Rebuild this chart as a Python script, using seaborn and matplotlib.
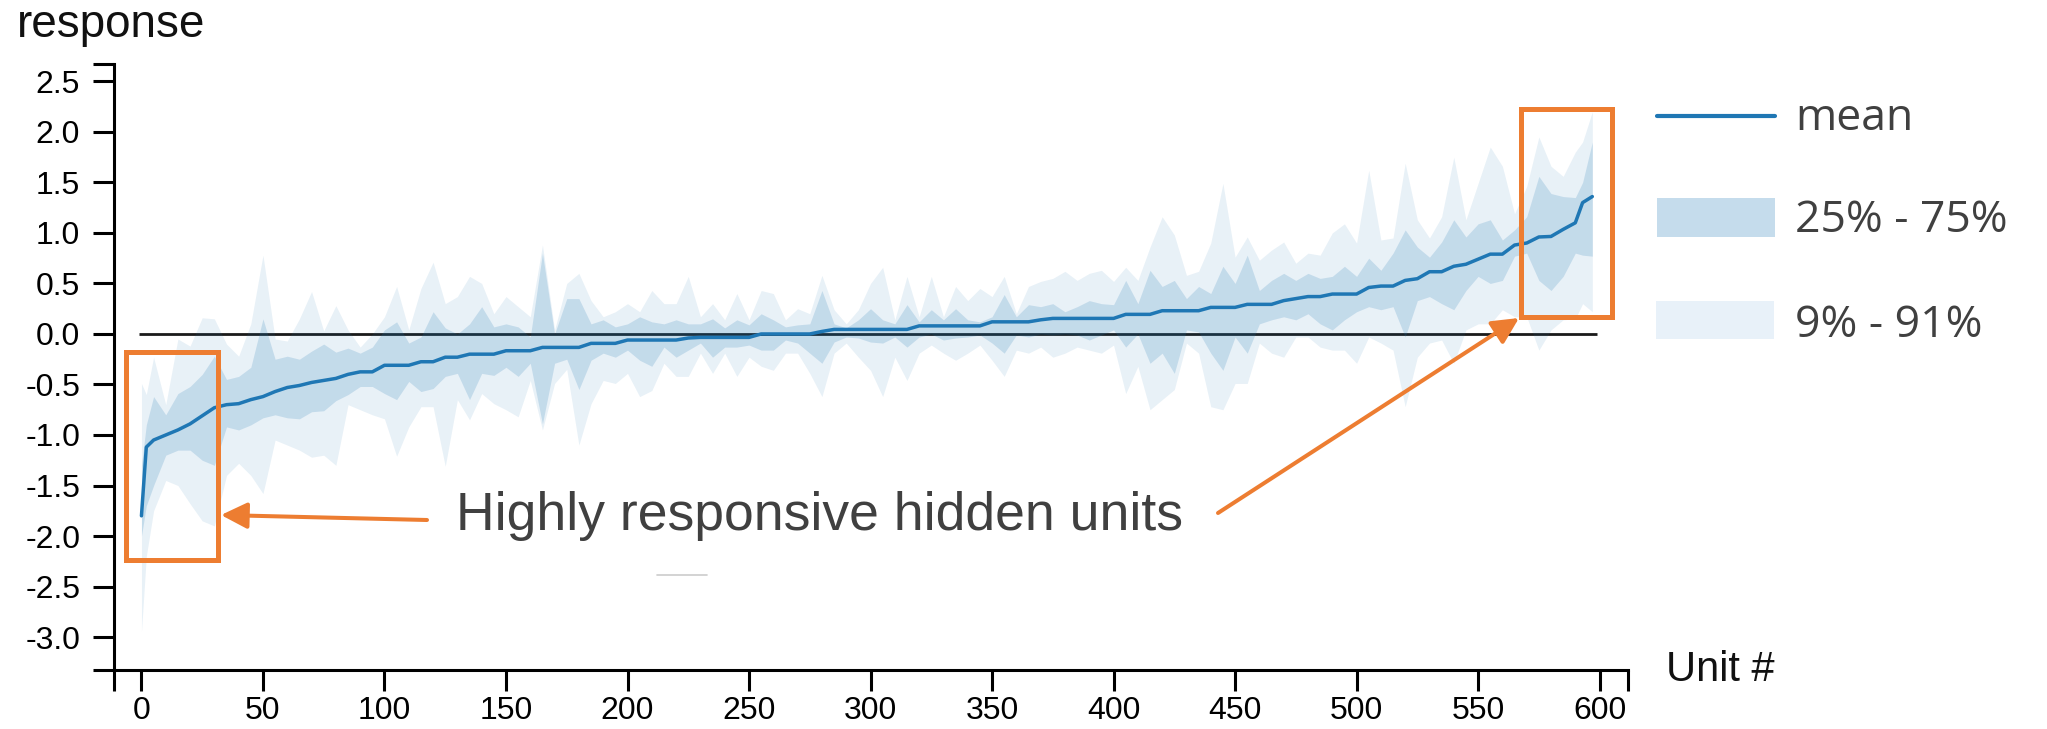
import numpy as np
import seaborn as sns
import matplotlib
matplotlib.use("Agg")
import matplotlib.pyplot as plt
from matplotlib.patches import Rectangle, FancyArrowPatch
from matplotlib.lines import Line2D
from matplotlib.ticker import FuncFormatter

# ── data (unit index, sorted by mean response) ──
UNITS = [0, 2, 5, 10, 15, 20, 25, 30, 35, 40, 45, 50, 55, 60, 65, 70, 75, 80,
         85, 90, 95, 100, 105, 110, 115, 120, 125, 130, 135, 140, 145, 150,
         155, 160, 165, 170, 175, 180, 185, 190, 195, 200, 205, 210, 215, 220,
         225, 230, 235, 240, 245, 250, 255, 260, 265, 270, 275, 280, 285, 290,
         295, 300, 305, 310, 315, 320, 325, 330, 335, 340, 345, 350, 355, 360,
         365, 370, 375, 380, 385, 390, 395, 400, 405, 410, 415, 420, 425, 430,
         435, 440, 445, 450, 455, 460, 465, 470, 475, 480, 485, 490, 495, 500,
         505, 510, 515, 520, 525, 530, 535, 540, 545, 550, 555, 560, 565, 570,
         575, 580, 585, 590, 593, 597]

MEAN = [-1.80, -1.12, -1.05, -1.00, -0.95, -0.89, -0.81, -0.73, -0.70, -0.69,
        -0.65, -0.62, -0.57, -0.53, -0.51, -0.48, -0.46, -0.44, -0.40, -0.375,
        -0.375, -0.31, -0.31, -0.31, -0.275, -0.275, -0.23, -0.23, -0.20, -0.20,
        -0.20, -0.166, -0.166, -0.166, -0.133, -0.133, -0.133, -0.133, -0.093,
        -0.093, -0.093, -0.06, -0.06, -0.06, -0.06, -0.06, -0.04, -0.034,
        -0.034, -0.034, -0.034, -0.034, 0.0, 0.0, 0.0, 0.0, 0.0, 0.025, 0.045,
        0.045, 0.045, 0.045, 0.045, 0.045, 0.045, 0.08, 0.08, 0.08, 0.08, 0.08,
        0.08, 0.12, 0.12, 0.12, 0.12, 0.14, 0.154, 0.154, 0.154, 0.154, 0.154,
        0.154, 0.194, 0.194, 0.194, 0.23, 0.23, 0.23, 0.23, 0.263, 0.263, 0.263,
        0.293, 0.293, 0.293, 0.33, 0.35, 0.37, 0.37, 0.395, 0.395, 0.395, 0.46,
        0.474, 0.474, 0.53, 0.547, 0.616, 0.616, 0.67, 0.69, 0.74, 0.79, 0.79,
        0.88, 0.90, 0.96, 0.965, 1.035, 1.10, 1.30, 1.36]

P09 = [-2.95, -2.20, -1.75, -1.45, -1.50, -1.68, -1.85, -1.90, -1.40, -1.28,
       -1.40, -1.58, -1.05, -1.10, -1.15, -1.22, -1.20, -1.30, -0.70, -0.75,
       -0.80, -0.84, -1.21, -0.92, -0.72, -0.72, -1.31, -0.65, -0.85, -0.59,
       -0.69, -0.75, -0.82, -0.46, -0.95, -0.49, -0.35, -1.10, -0.69, -0.46,
       -0.49, -0.39, -0.62, -0.56, -0.29, -0.42, -0.42, -0.19, -0.39, -0.19,
       -0.42, -0.23, -0.32, -0.36, -0.19, -0.19, -0.39, -0.62, -0.19, -0.09,
       -0.23, -0.36, -0.62, -0.23, -0.46, -0.19, -0.11, -0.19, -0.26, -0.19,
       -0.11, -0.26, -0.42, -0.16, -0.19, -0.13, -0.23, -0.19, -0.13, -0.16,
       -0.19, -0.11, -0.59, -0.32, -0.75, -0.65, -0.55, -0.09, -0.19, -0.72,
       -0.75, -0.49, -0.49, -0.09, -0.19, -0.23, -0.03, -0.03, -0.13, -0.16,
       -0.16, -0.29, -0.03, -0.09, -0.16, -0.72, -0.23, -0.09, -0.06, -0.29,
       0.04, 0.10, 0.10, 0.24, 0.17, 0.17, -0.16, 0.04, 0.14, 0.15, 0.30, 0.22]

P25 = [-2.00, -1.70, -1.50, -1.20, -1.15, -1.15, -1.25, -1.30, -0.92, -0.95,
       -0.90, -0.83, -0.80, -0.83, -0.84, -0.77, -0.76, -0.66, -0.60, -0.52,
       -0.52, -0.59, -0.65, -0.47, -0.57, -0.54, -0.42, -0.39, -0.65, -0.39,
       -0.41, -0.33, -0.42, -0.29, -0.89, -0.29, -0.25, -0.55, -0.26, -0.19,
       -0.23, -0.16, -0.26, -0.32, -0.13, -0.23, -0.16, -0.09, -0.23, -0.13,
       -0.13, -0.11, -0.16, -0.16, -0.06, -0.09, -0.19, -0.29, -0.08, -0.03,
       -0.04, -0.08, -0.09, -0.03, -0.13, -0.03, 0.00, -0.06, -0.04, -0.03,
       -0.01, -0.09, -0.19, -0.01, -0.03, 0.00, -0.01, 0.00, -0.01, -0.06,
       -0.01, 0.04, -0.13, 0.00, -0.29, -0.19, -0.39, 0.04, 0.02, -0.19,
       -0.36, -0.03, -0.19, 0.10, 0.14, 0.17, 0.14, 0.20, 0.10, 0.04,
       0.14, 0.22, 0.27, 0.24, 0.27, -0.03, 0.33, 0.37, 0.30, 0.24,
       0.43, 0.57, 0.50, 0.53, 0.77, 0.80, 0.53, 0.43, 0.57, 0.80, 0.78, 0.77]

P75 = [-1.30, -0.90, -0.62, -0.80, -0.59, -0.52, -0.40, -0.22, -0.45, -0.42,
       -0.33, 0.15, -0.25, -0.22, -0.25, -0.17, -0.10, -0.18, -0.14, -0.19,
       -0.13, 0.04, 0.12, -0.09, -0.03, 0.22, 0.06, 0.00, 0.10, 0.27,
       0.07, 0.10, 0.07, -0.03, 0.80, 0.00, 0.35, 0.35, 0.10, 0.14,
       0.07, 0.10, 0.17, 0.12, 0.10, 0.14, 0.10, 0.10, 0.15, 0.06,
       0.14, 0.09, 0.20, 0.14, 0.07, 0.09, 0.10, 0.43, 0.10, 0.06,
       0.14, 0.25, 0.14, 0.10, 0.29, 0.12, 0.24, 0.14, 0.25, 0.14,
       0.12, 0.17, 0.39, 0.17, 0.29, 0.27, 0.30, 0.22, 0.27, 0.33,
       0.30, 0.29, 0.53, 0.30, 0.63, 0.47, 0.53, 0.35, 0.47, 0.40,
       0.67, 0.50, 0.78, 0.43, 0.53, 0.60, 0.53, 0.60, 0.55, 0.57,
       0.67, 0.57, 0.75, 0.63, 0.80, 1.03, 0.86, 0.76, 0.91, 1.13,
       0.96, 1.09, 1.13, 0.93, 1.03, 1.16, 1.56, 1.39, 1.36, 1.35, 1.50, 1.90]

P91 = [-0.49, -0.60, -0.23, -0.70, -0.05, -0.12, 0.16, 0.15, -0.10, -0.22,
       0.10, 0.78, -0.05, -0.07, 0.15, 0.42, 0.03, 0.28, 0.04, -0.13,
       0.00, 0.17, 0.47, 0.04, 0.45, 0.71, 0.30, 0.37, 0.57, 0.50,
       0.20, 0.37, 0.27, 0.17, 0.88, 0.04, 0.50, 0.60, 0.33, 0.17,
       0.22, 0.30, 0.22, 0.43, 0.30, 0.30, 0.57, 0.17, 0.30, 0.14,
       0.40, 0.14, 0.43, 0.40, 0.14, 0.25, 0.20, 0.58, 0.24, 0.10,
       0.24, 0.50, 0.66, 0.14, 0.57, 0.17, 0.57, 0.17, 0.47, 0.33,
       0.45, 0.37, 0.57, 0.20, 0.47, 0.52, 0.55, 0.62, 0.53, 0.60,
       0.63, 0.52, 0.66, 0.53, 0.86, 1.16, 0.98, 0.58, 0.62, 0.90,
       1.49, 0.76, 0.96, 0.73, 0.83, 0.91, 0.70, 0.80, 0.78, 1.00,
       1.09, 0.90, 1.62, 0.93, 0.95, 1.69, 1.13, 0.95, 1.16, 1.75,
       1.13, 1.49, 1.85, 1.66, 1.19, 1.46, 1.95, 1.66, 1.56, 1.80, 1.90, 2.20]

X_TICKS = list(range(0, 601, 50))
Y_TICKS = [-3.0, -2.5, -2.0, -1.5, -1.0, -0.5, 0.0, 0.5, 1.0, 1.5, 2.0, 2.5]
LEGEND_LABELS = ["mean", "25% - 75%", "9% - 91%"]

BLUE = "#1f77b4"
ORANGE = "#ed7d31"
GREY_TEXT = "#404040"
W, H = 2047, 729


def fx(px):
    return px / W


def fy(py):
    return 1 - py / H


sns.set_theme(style="ticks")
plt.rcParams["font.family"] = ["Liberation Sans", "DejaVu Sans"]
plt.rcParams["axes.unicode_minus"] = False

fig = plt.figure(figsize=(W / 100, H / 100), dpi=100)
ax = fig.add_axes([fx(113.5), fy(670.4), fx(1627.8) - fx(113.5), fy(63.7) - fy(670.4)])

XLIM = (-11.5, 611.6)
YLIM = (-3.33, 2.675)

# zero reference line sits under the bands
ax.hlines(0, -1, 599, color="#1a1a1a", lw=2.0, zorder=1)

ax.fill_between(UNITS, P09, P91, color=BLUE, alpha=0.10, lw=0, zorder=2)
ax.fill_between(UNITS, P25, P75, color=BLUE, alpha=0.18, lw=0, zorder=3)
sns.lineplot(x=UNITS, y=MEAN, ax=ax, color=BLUE, lw=2.5, zorder=4)

ax.set_xlim(*XLIM)
ax.set_ylim(*YLIM)
ax.set_xticks(X_TICKS)
ax.set_yticks(Y_TICKS)
ax.set_xticks(XLIM, minor=True)
ax.set_yticks(YLIM, minor=True)
ax.yaxis.set_major_formatter(FuncFormatter(lambda v, p: f"{round(v, 1):.1f}"))
ax.set_xlabel("")
ax.set_ylabel("")

for s in ("top", "right"):
    ax.spines[s].set_visible(False)
for s in ("left", "bottom"):
    ax.spines[s].set_linewidth(2.2)
    ax.spines[s].set_color("black")
ax.tick_params(which="both", length=15, width=2.2, color="black",
               labelsize=23, labelcolor="black")
ax.tick_params(axis="y", pad=9)
ax.tick_params(axis="x", pad=3.5)
ax.patch.set_alpha(0)

# axis titles placed like the original
fig.text(fx(17), fy(37), "response", fontsize=33, color="#111111", va="baseline")
fig.text(fx(1666), fy(681), "Unit #", fontsize=30, color="#111111", va="baseline")

# ── legend drawn by hand, right of the plot ──
fig.add_artist(Line2D([fx(1657), fx(1775)], [fy(116), fy(116)],
                      color=BLUE, lw=3, transform=fig.transFigure))
fig.add_artist(Rectangle((fx(1657), fy(237)), fx(1775) - fx(1657), fy(198) - fy(237),
                         color="#c5dcec", lw=0, transform=fig.transFigure))
fig.add_artist(Rectangle((fx(1656), fy(339)), fx(1774) - fx(1656), fy(301) - fy(339),
                         color="#e8f1f9", lw=0, transform=fig.transFigure))
for label, base in zip(LEGEND_LABELS, [130, 232, 337]):
    fig.text(fx(1795), fy(base), label, fontsize=32, color=GREY_TEXT,
             va="baseline", family=["Open Sans", "DejaVu Sans"])

# ── annotation: boxes, arrows, caption ──
for x0, y0, x1, y1 in [(125.5, 351.5, 218, 559.5), (1521, 108.5, 1612, 317)]:
    fig.add_artist(Rectangle((fx(x0), fy(y1)), fx(x1) - fx(x0), fy(y0) - fy(y1),
                             fill=False, ec=ORANGE, lw=3.6, joinstyle="miter",
                             transform=fig.transFigure))

for tail, tip in [((427, 520), (221, 515)), ((1218, 513), (1519, 318))]:
    fig.add_artist(FancyArrowPatch(
        (fx(tail[0]), fy(tail[1])), (fx(tip[0]), fy(tip[1])),
        transform=fig.transFigure, arrowstyle="-|>,head_length=16,head_width=8",
        mutation_scale=1, color=ORANGE, lw=2.9, shrinkA=0, shrinkB=0))

fig.text(fx(456), fy(530), "Highly responsive hidden units", fontsize=38.5,
         color=GREY_TEXT, va="baseline")
fig.add_artist(Line2D([fx(657), fx(707)], [fy(575), fy(575)],
                      color="#cccccc", lw=1.2, transform=fig.transFigure))

fig.savefig("out.png", dpi=100)
